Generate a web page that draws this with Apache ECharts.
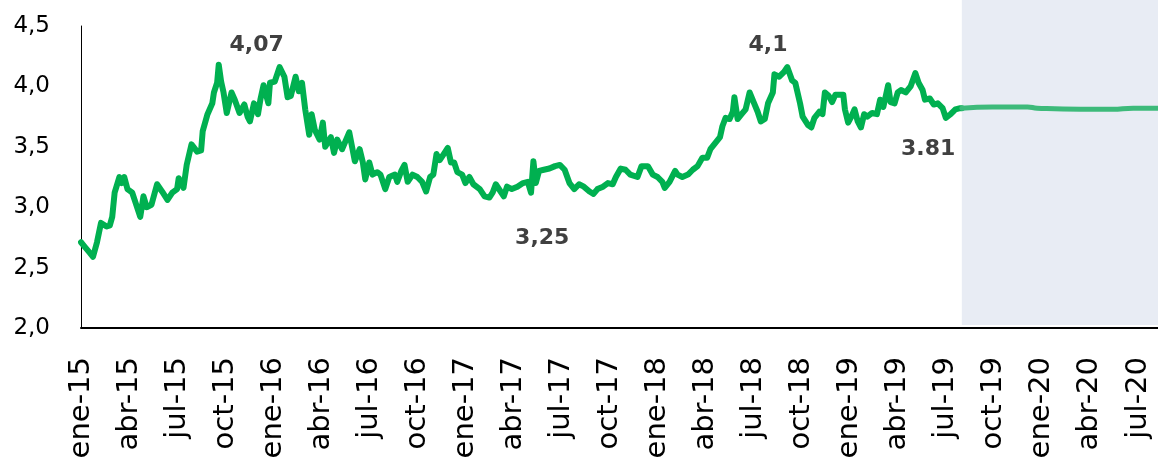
<!DOCTYPE html>
<html><head><meta charset="utf-8">
<script src="https://cdn.jsdelivr.net/npm/echarts@6/dist/echarts.min.js"></script>
<style>html,body{margin:0;padding:0;background:#fff}#c{width:1158px;height:457px}</style>
</head><body><div id="c"></div>
<script>
// x values are months since 1 Jan 2015
const tickLabels = ['ene-15','abr-15','jul-15','oct-15','ene-16','abr-16','jul-16','oct-16','ene-17','abr-17','jul-17','oct-17','ene-18','abr-18','jul-18','oct-18','ene-19','abr-19','jul-19','oct-19','ene-20','abr-20','jul-20'];
const histMonths = [0,0.25,0.5,0.75,1.0,1.25,1.6,1.8,1.95,2.1,2.4,2.55,2.7,2.9,3.2,3.4,3.7,3.9,4.1,4.4,4.75,5.06,5.4,5.7,6.0,6.1,6.4,6.6,6.9,7.25,7.5,7.6,7.9,8.2,8.3,8.5,8.6,8.75,8.9,9.1,9.4,9.6,9.9,10.2,10.4,10.55,10.8,11.05,11.2,11.4,11.7,11.8,12.1,12.4,12.7,12.9,13.1,13.4,13.6,13.8,14.0,14.25,14.4,14.6,14.9,15.1,15.25,15.6,15.8,16.0,16.3,16.75,17.1,17.4,17.6,17.75,18.0,18.2,18.5,18.7,19.0,19.25,19.6,19.75,20.0,20.2,20.4,20.7,21.0,21.3,21.55,21.8,22.0,22.2,22.4,22.7,22.9,23.1,23.3,23.5,23.8,24.0,24.25,24.5,24.9,25.2,25.5,25.7,25.9,26.2,26.4,26.6,26.9,27.25,27.6,27.9,28.1,28.25,28.4,28.6,28.9,29.25,29.6,29.9,30.2,30.5,30.8,31.1,31.4,31.75,32.0,32.25,32.6,32.9,33.2,33.4,33.7,34.0,34.3,34.75,35.0,35.4,35.7,36.0,36.3,36.45,36.75,37.1,37.25,37.55,37.9,38.2,38.5,38.8,39.1,39.3,39.6,39.9,40.05,40.25,40.5,40.7,40.8,41.0,41.25,41.5,41.75,42.0,42.25,42.45,42.7,42.9,43.2,43.3,43.6,43.9,44.1,44.4,44.6,44.9,45.06,45.4,45.6,45.8,46.1,46.3,46.45,46.7,46.9,47.1,47.6,47.7,47.9,48.1,48.3,48.5,48.7,48.9,49.1,49.4,49.7,49.9,50.1,50.25,50.4,50.55,50.8,51.0,51.2,51.5,51.8,52.1,52.3,52.55,52.7,53.0,53.25,53.5,53.8,54.0,54.3,54.6,54.9,55.0];
const histValues = [2.71,2.67,2.63,2.59,2.71,2.87,2.84,2.85,2.92,3.12,3.25,3.20,3.25,3.15,3.12,3.04,2.92,3.09,3.00,3.02,3.19,3.13,3.06,3.12,3.15,3.24,3.16,3.35,3.52,3.46,3.47,3.63,3.77,3.86,3.95,4.03,4.18,4.04,3.95,3.78,3.95,3.89,3.78,3.85,3.75,3.71,3.86,3.77,3.89,4.01,3.86,4.03,4.04,4.16,4.08,3.91,3.92,4.08,3.96,4.03,3.81,3.60,3.77,3.64,3.56,3.70,3.50,3.58,3.45,3.56,3.48,3.62,3.38,3.48,3.37,3.23,3.37,3.27,3.29,3.27,3.15,3.25,3.27,3.21,3.30,3.35,3.21,3.27,3.25,3.21,3.13,3.25,3.27,3.44,3.39,3.45,3.49,3.37,3.37,3.29,3.27,3.20,3.25,3.19,3.15,3.09,3.08,3.12,3.19,3.13,3.09,3.17,3.15,3.17,3.20,3.21,3.12,3.38,3.20,3.30,3.31,3.32,3.34,3.35,3.31,3.20,3.15,3.19,3.17,3.13,3.11,3.15,3.17,3.20,3.19,3.25,3.32,3.31,3.27,3.25,3.34,3.34,3.27,3.25,3.21,3.16,3.21,3.30,3.27,3.25,3.27,3.31,3.34,3.41,3.41,3.48,3.53,3.58,3.67,3.74,3.73,3.79,3.91,3.73,3.77,3.81,3.95,3.87,3.79,3.71,3.73,3.86,3.95,4.10,4.08,4.12,4.16,4.05,4.03,3.86,3.75,3.68,3.66,3.74,3.79,3.77,3.95,3.92,3.87,3.93,3.93,3.81,3.70,3.75,3.81,3.71,3.66,3.77,3.75,3.78,3.77,3.89,3.83,3.92,4.01,3.87,3.86,3.95,3.97,3.95,4.00,4.11,4.03,3.97,3.89,3.90,3.85,3.86,3.82,3.74,3.77,3.81,3.82,3.82];
const fcMonths = [55,56.9,59.1,59.7,62.4,64.4,65.7,67.25];
const fcValues = [3.82,3.83,3.83,3.82,3.81,3.81,3.82,3.82];
const noteMonths = [10.97,42.9,28.8,52.9];
const noteValues = [4.34,4.34,2.74,3.48];
const noteTexts = ['4,07','4,1','3,25','3.81'];
const forecastStart = 55;
const axisEnd = 67.25;

const zip = (a,b) => a.map((x,i)=>[x,b[i]]);
const chart = echarts.init(document.getElementById('c'));
chart.setOption({
  animation:false,
  grid:{left:81,right:0,top:26,bottom:129,containLabel:false,outerBoundsMode:'none'},
  xAxis:{type:'value',min:0,max:axisEnd,interval:3,
    axisLine:{show:true,onZero:false,lineStyle:{color:'#000',width:2}},
    axisTick:{show:false},splitLine:{show:false},
    axisLabel:{rotate:90,margin:29,fontFamily:'DejaVu Sans',fontSize:29,color:'#000',
      showMaxLabel:false,
      formatter:v=>{const i=Math.round(v/3);return Math.abs(v-i*3)<1e-6&&tickLabels[i]?tickLabels[i]:'';}}},
  yAxis:{type:'value',min:2,max:4.5,interval:0.5,
    axisLine:{show:true,lineStyle:{color:'#000',width:1}},
    axisTick:{show:false},splitLine:{show:false},
    axisLabel:{margin:31,fontFamily:'DejaVu Sans',fontSize:23,color:'#000',
      formatter:v=>v.toFixed(1).replace('.',',')}},
  series:[
    {type:'line',data:zip(histMonths,histValues),showSymbol:false,z:3,
      lineStyle:{color:'#00b050',width:6,join:'round',cap:'round'}},
    {type:'line',data:zip(fcMonths,fcValues),showSymbol:false,smooth:true,z:3,
      lineStyle:{color:'#3dba7a',width:5,cap:'round'}},
    {type:'scatter',data:noteMonths.map((m,i)=>[m,noteValues[i],noteTexts[i]]),symbolSize:0,z:4,
      itemStyle:{opacity:1},
      label:{show:true,position:'inside',formatter:p=>p.data[2],fontFamily:'DejaVu Sans',fontWeight:'bold',fontSize:22,color:'#404040'}}
  ]
});
const x0 = chart.convertToPixel({xAxisIndex:0}, forecastStart);
const x1 = chart.convertToPixel({xAxisIndex:0}, axisEnd);
const yb = chart.convertToPixel({yAxisIndex:0}, 2.0);
chart.setOption({graphic:[{type:'rect',z:0,silent:true,shape:{x:x0,y:0,width:x1-x0,height:yb-3},style:{fill:'#e8ecf4'}}]});
</script></body></html>
